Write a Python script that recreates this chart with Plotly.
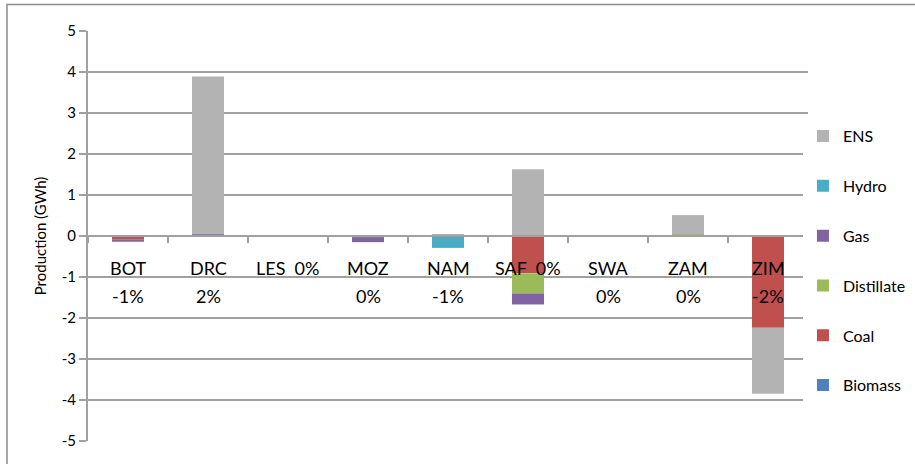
import plotly.graph_objects as go

countries = ["BOT", "DRC", "LES", "MOZ", "NAM", "SAF", "SWA", "ZAM", "ZIM"]
label_top = ["BOT", "DRC", "LES  0%", "MOZ", "NAM", "SAF  0%", "SWA", "ZAM", "ZIM"]
label_pct = ["-1%", "2%", "", "0%", "-1%", "", "0%", "0%", "-2%"]
y_ticks = [-5, -4, -3, -2, -1, 0, 1, 2, 3, 4, 5]
y_labels = ["-5", "-4", "-3", "-2", "-1", "0", "1", "2", "3", "4", "5"]

biomass = [0, 0, 0, 0, 0, 0, 0, 0, 0]
coal = [-0.08, 0, 0, 0, -0.02, -0.91, 0, 0, -2.24]
distillate = [0, 0, 0, -0.03, 0, -0.49, 0, 0.04, 0]
gas = [-0.06, 0.04, 0, -0.12, 0, -0.27, 0, 0, 0]
hydro = [0, 0, 0, 0, -0.27, 0, 0, 0, 0]
ens = [0, 3.85, 0, 0, 0.05, 1.63, 0, 0.47, -1.61]

series = [
    ("Biomass", biomass, "#4f81bd"),
    ("Coal", coal, "#c0504d"),
    ("Distillate", distillate, "#9bbb59"),
    ("Gas", gas, "#8064a2"),
    ("Hydro", hydro, "#4bacc6"),
    ("ENS", ens, "#b3b3b3"),
]

FONT = "Lato, 'Open Sans', sans-serif"
GRID = "#a0a0a0"

fig = go.Figure()
for i, (name, vals, color) in enumerate(series):
    # ENS on top of the legend, Biomass at the bottom
    fig.add_trace(go.Bar(x=countries, y=vals, name=name, legendgroup=name,
                         legendrank=1000 - i,
                         marker=dict(color=color, line=dict(width=0))))

# category labels sit just under the zero line, like the Excel axis
for c, top, pct in zip(countries, label_top, label_pct):
    fig.add_annotation(x=c, y=0, text=top, showarrow=False, yanchor="middle",
                       yshift=-32, font=dict(size=18, color="#000"))
    if pct:
        fig.add_annotation(x=c, y=0, text=pct, showarrow=False, yanchor="middle",
                           yshift=-60, font=dict(size=18, color="#000"))

# outer chart border
fig.add_shape(type="rect", xref="paper", yref="paper",
              x0=-0.1125, x1=1.3, y0=-0.3, y1=1.0646,
              line=dict(color="#8c8c8c", width=1.5), layer="below")

fig.update_layout(
    width=915, height=464,
    margin=dict(l=88, r=107, t=31, b=23, autoexpand=False),
    barmode="relative", bargap=0.6,
    plot_bgcolor="white", paper_bgcolor="white",
    font=dict(family=FONT, color="#000"),
    legend=dict(x=0.993, xanchor="left", y=0.785, yanchor="top",
                traceorder="grouped", tracegroupgap=26,
                font=dict(size=16), itemwidth=30),
    showlegend=True,
)
fig.update_xaxes(
    type="category", anchor="free", position=0.5,
    showline=True, linecolor=GRID, linewidth=2,
    ticks="outside", tickson="boundaries", ticklen=6, tickcolor=GRID, tickwidth=2,
    showticklabels=False, showgrid=False, zeroline=False,
)
fig.update_yaxes(
    range=[-5, 5], tickvals=y_ticks, ticktext=y_labels,
    showline=True, linecolor=GRID, linewidth=2,
    ticks="outside", ticklen=7, tickcolor=GRID, tickwidth=2,
    showgrid=True, gridcolor=GRID, gridwidth=2, zeroline=False,
    tickfont=dict(size=15),
    title=dict(text="Production (GWh)", font=dict(size=15), standoff=11),
)

fig.write_html("out.html", config={"displayModeBar": False},
               post_script="document.body.style.margin='0';")
